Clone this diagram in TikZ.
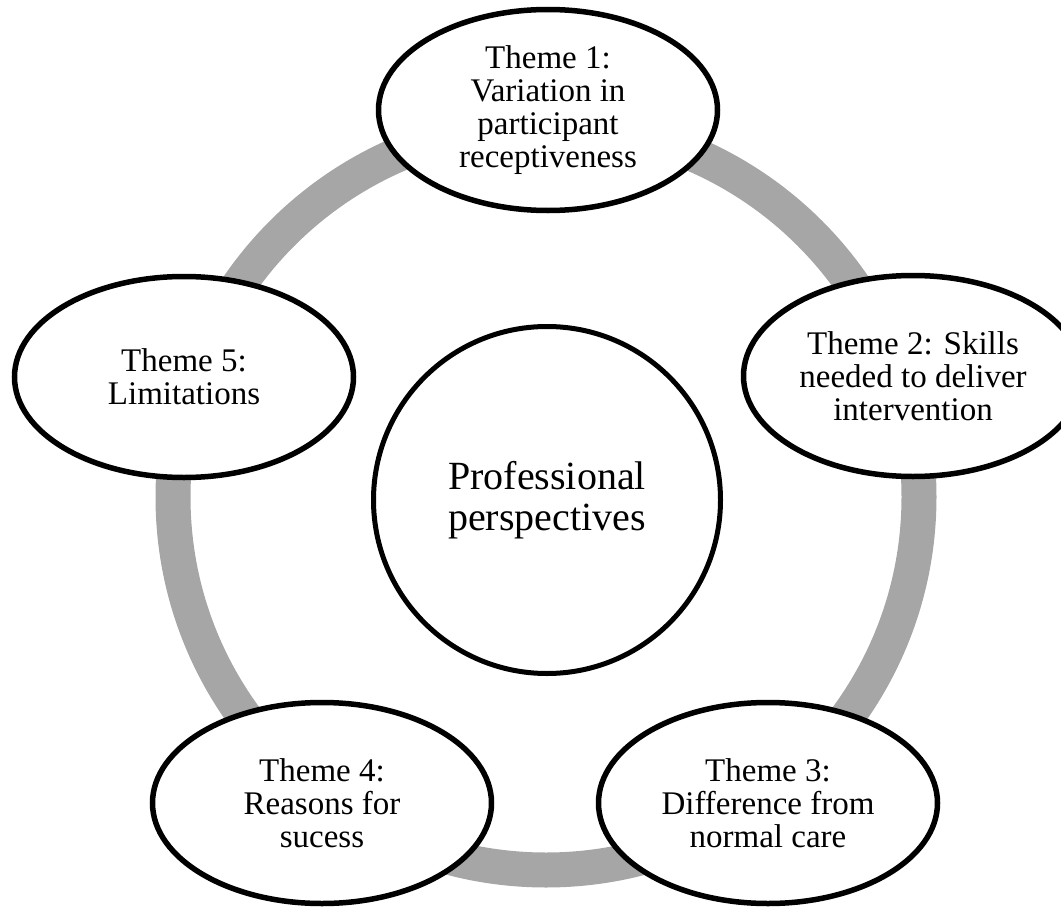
\documentclass[tikz,border=0pt]{standalone}
\usepackage{fontspec}
\setmainfont{Liberation Serif}
\usetikzlibrary{shapes.geometric}
\definecolor{ringgray}{RGB}{166,166,166}
\begin{document}
\begin{tikzpicture}[x=1pt,y=-1pt,
  theme/.style={ellipse, draw=black, line width=5.5pt, fill=white,
    minimum width=339pt, minimum height=201pt, inner sep=0pt,
    align=center, font=\fontsize{33}{33}\selectfont},
  hub/.style={circle, draw=black, line width=5pt, fill=white,
    minimum size=347pt, inner sep=0pt, align=center,
    font=\fontsize{40}{41}\selectfont},
  ring/.style={draw=ringgray, line width=35pt}]
\useasboundingbox (0,0) rectangle (1061,910);
\coordinate (ringc) at (546,497);
\draw[ring] (ringc) circle[radius=373pt];
\node[hub] (hub) at (547,500) {Professional\\perspectives};
\node[theme] (t1) at (548,110) {Theme 1:\\Variation in\\participant\\receptiveness};
\node[theme] (t2) at (913,376) {Theme 2: Skills\\needed to deliver\\intervention};
\node[theme] (t3) at (768,803) {Theme 3:\\Difference from\\normal care};
\node[theme] (t4) at (322,803) {Theme 4:\\Reasons for\\sucess};
\node[theme] (t5) at (184,377) {Theme 5:\\Limitations};
\end{tikzpicture}
\end{document}
